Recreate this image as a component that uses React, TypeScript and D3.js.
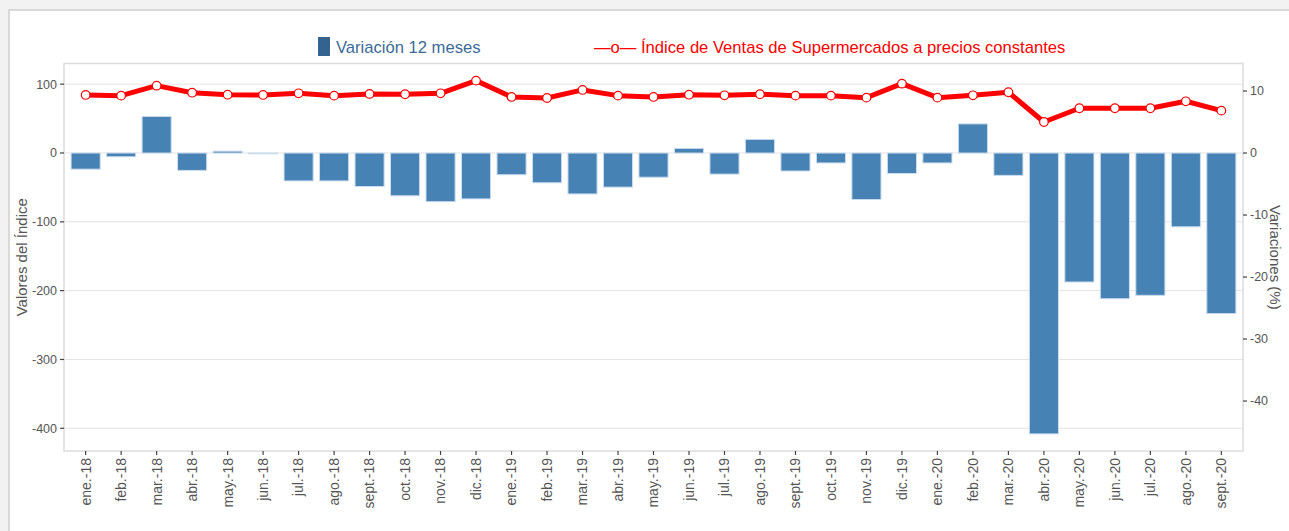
import React from "react";
import * as d3 from "d3";

const months: string[] = [
  "ene.-18", "feb.-18", "mar.-18", "abr.-18", "may.-18", "jun.-18", "jul.-18", "ago.-18", "sept.-18", "oct.-18", "nov.-18", "dic.-18",
  "ene.-19", "feb.-19", "mar.-19", "abr.-19", "may.-19", "jun.-19", "jul.-19", "ago.-19", "sept.-19", "oct.-19", "nov.-19", "dic.-19",
  "ene.-20", "feb.-20", "mar.-20", "abr.-20", "may.-20", "jun.-20", "jul.-20", "ago.-20", "sept.-20",
];

// Variación 12 meses (%), right axis
const variacion: number[] = [
  -2.6, -0.6, 5.9, -2.8, 0.3, -0.1, -4.5, -4.5, -5.4, -6.9, -7.85, -7.4,
  -3.5, -4.8, -6.6, -5.5, -3.9, 0.75, -3.4, 2.2, -2.9, -1.6, -7.5, -3.3,
  -1.6, 4.7, -3.6, -45.3, -20.8, -23.5, -22.95, -11.9, -25.9,
];

// Índice de Ventas de Supermercados a precios constantes, left axis
const indice: number[] = [
  84.3, 83.3, 97.8, 87.6, 84.7, 84.3, 86.7, 83.3, 85.8, 85.3, 86.7, 105.1,
  81.4, 79.9, 91.6, 83.3, 81.4, 84.7, 83.8, 85.3, 83.3, 83.3, 80.4, 100.7,
  80.4, 83.8, 88.2, 45, 65, 65, 65, 75.1, 61.5,
];

const leftTicks: number[] = [100, 0, -100, -200, -300, -400];
const rightTicks: number[] = [10, 0, -10, -20, -30, -40];

const W = 1289;
const H = 531;
const PL = 64, PR = 1243, PT = 63.5, PB = 451;
const FONT = "'Liberation Sans', Arial, sans-serif";

export default function App() {
  const x = d3.scaleBand<string>().domain(months).range([PL, PR]).paddingInner(0.18).paddingOuter(0.2);
  const yL = d3.scaleLinear().domain([-433, 130]).range([PB, PT]);
  const yR = d3.scaleLinear().domain([-48.06, 14.44]).range([PB, PT]);
  const cx = (m: string) => (x(m) as number) + x.bandwidth() / 2;

  const line = d3.line<number>().x((_, i) => cx(months[i])).y((d) => yL(d));

  return (
    <svg width={W} height={H} style={{ display: "block", fontFamily: FONT }}>
      <style>{`body{margin:0}`}</style>
      <rect x={0} y={0} width={W} height={H} fill="#f2f2f2" />
      <rect x={9} y={10} width={W + 10} height={H + 10} fill="#ffffff" stroke="#d9d9d9" strokeWidth={2} />

      {/* gridlines */}
      {leftTicks.map((t) => (
        <line key={"g" + t} x1={PL} x2={PR} y1={yL(t)} y2={yL(t)} stroke="#e3e3e3" strokeWidth={1} />
      ))}

      {/* plot border */}
      <rect x={PL} y={PT} width={PR - PL} height={PB - PT} fill="none" stroke="#dcdcdc" strokeWidth={1.5} />

      {/* bars */}
      {variacion.map((v, i) => {
        const y0 = yR(0);
        const y1 = yR(v);
        return (
          <rect
            key={"b" + i}
            x={x(months[i])}
            y={Math.min(y0, y1)}
            width={x.bandwidth()}
            height={Math.max(Math.abs(y1 - y0), 0.8)}
            fill="#4682b4"
            stroke="#cbdcee"
            strokeWidth={1}
          />
        );
      })}

      {/* line */}
      <path d={line(indice) || ""} fill="none" stroke="#ff0000" strokeWidth={5} strokeLinejoin="round" />
      {indice.map((v, i) => (
        <circle key={"p" + i} cx={cx(months[i])} cy={yL(v)} r={4.3} fill="#ffffff" stroke="#ff0000" strokeWidth={1.2} />
      ))}

      {/* left axis */}
      {leftTicks.map((t) => (
        <g key={"l" + t}>
          <line x1={PL - 4} x2={PL} y1={yL(t)} y2={yL(t)} stroke="#444" strokeWidth={1.2} />
          <text x={PL - 7} y={yL(t)} dy="0.35em" textAnchor="end" fontSize={12.5} fill="#555">{t}</text>
        </g>
      ))}
      {/* right axis */}
      {rightTicks.map((t) => (
        <g key={"r" + t}>
          <line x1={PR} x2={PR + 4} y1={yR(t)} y2={yR(t)} stroke="#444" strokeWidth={1.2} />
          <text x={PR + 7} y={yR(t)} dy="0.35em" textAnchor="start" fontSize={12.5} fill="#555">{t}</text>
        </g>
      ))}
      {/* x axis */}
      {months.map((m) => (
        <g key={"x" + m}>
          <line x1={cx(m)} x2={cx(m)} y1={PB} y2={PB + 4} stroke="#444" strokeWidth={1.2} />
          <text
            transform={`translate(${cx(m)},${PB + 7}) rotate(-90)`}
            dy="0.35em"
            textAnchor="end"
            fontSize={14}
            fill="#555"
          >
            {m}
          </text>
        </g>
      ))}

      {/* axis titles */}
      <text transform={`translate(22,${(PT + PB) / 2}) rotate(-90)`} dy="0.35em" textAnchor="middle" fontSize={15} fill="#555">
        Valores del Índice
      </text>
      <text transform={`translate(1275,${(PT + PB) / 2}) rotate(90)`} dy="0.35em" textAnchor="middle" fontSize={15} fill="#555">
        Variaciones (%)
      </text>

      {/* legend */}
      <rect x={318} y={37} width={12} height={19} fill="#35638f" />
      <text x={336} y={53} fontSize={16.6} fill="#3a6b98">Variación 12 meses</text>
      <text x={594} y={53} fontSize={16.6} fill="#ff0000">—o—</text>
      <text x={641} y={53} fontSize={16.6} fill="#ff0000">Índice de Ventas de Supermercados a precios constantes</text>
    </svg>
  );
}
